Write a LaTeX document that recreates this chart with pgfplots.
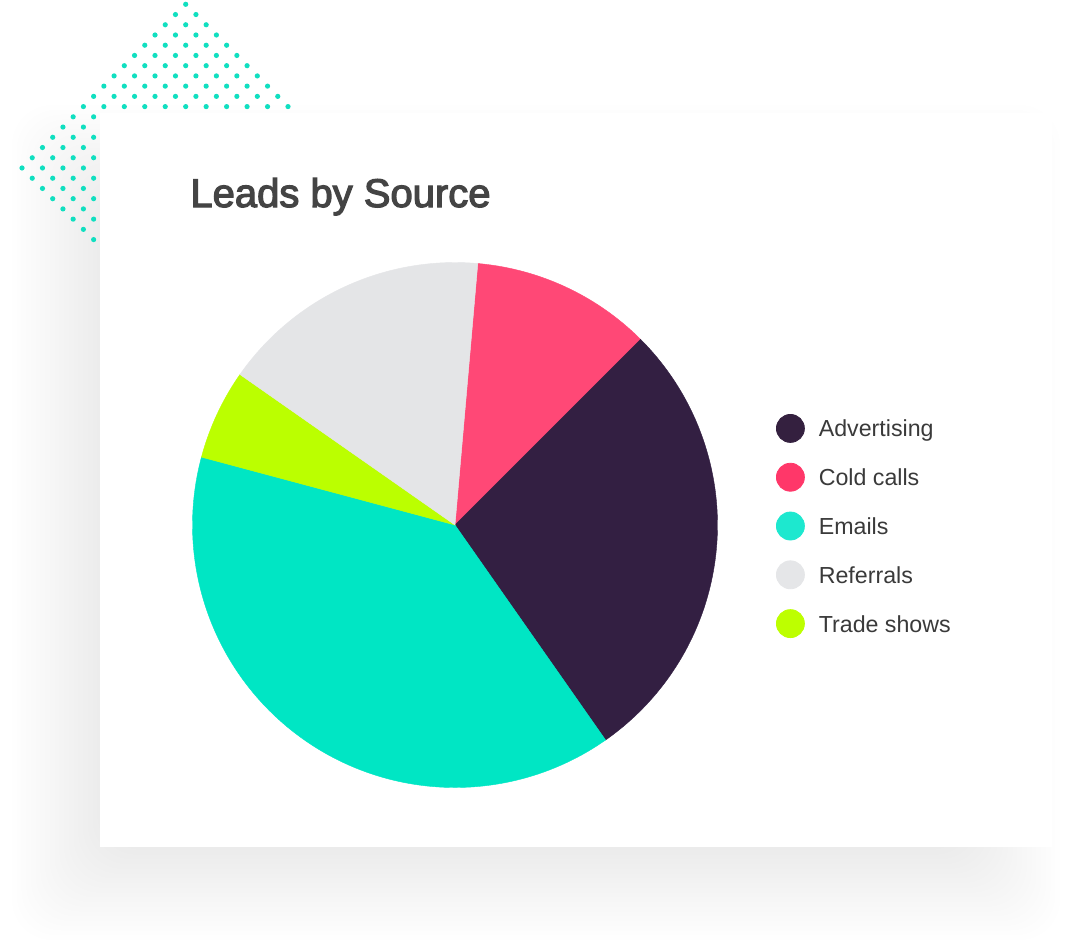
\documentclass[border=0pt]{standalone}
\usepackage{fontspec}
\setmainfont{Liberation Sans}
\newfontfamily\titlefont{Liberation Sans}[FakeBold=3]
\usepackage{pgfplots}
\pgfplotsset{compat=1.18}
\definecolor{advc}{HTML}{331F42}
\definecolor{coldc}{HTML}{FF4876}
\definecolor{emailc}{HTML}{00E6C4}
\definecolor{refc}{HTML}{E4E5E7}
\definecolor{tradec}{HTML}{BBFF00}
\definecolor{ladv}{HTML}{34203F}
\definecolor{lcold}{HTML}{FF3769}
\definecolor{lemail}{HTML}{1DE8CF}
\definecolor{lref}{HTML}{E5E6E8}
\definecolor{ltrade}{HTML}{BDFF00}
\definecolor{dotc}{HTML}{10DFC0}
\definecolor{titlec}{HTML}{444444}
\definecolor{textc}{HTML}{3A3A3A}
% data: leads by source
\def\vAdv{50}
\def\vCold{20}
\def\vEmail{70}
\def\vRef{30}
\def\vTrade{10}
\pgfmathsetmacro\total{\vAdv+\vCold+\vEmail+\vRef+\vTrade}
\pgfmathsetmacro\aA{85}
\pgfmathsetmacro\aB{\aA-\vCold/\total*360}
\pgfmathsetmacro\aC{\aB-\vAdv/\total*360}
\pgfmathsetmacro\aD{\aC-\vEmail/\total*360}
\pgfmathsetmacro\aE{\aD-\vTrade/\total*360}
\pgfmathsetmacro\aF{\aE-\vRef/\total*360}
\begin{document}
\begin{tikzpicture}
\fill[white] (0,0) rectangle (543pt,-474pt);
\begin{scope}[x=0.5pt,y=-0.5pt]
  \foreach \i in {0,...,19}{
    \pgfmathsetmacro\e{-45+90*\i/19}
    \fill[black, fill opacity=0.0055, rounded corners=20pt] (57-\e,150-\e) rectangle (1015+\e,895+\e);
  }
  \foreach \k in {0,...,32}{
    \pgfmathtruncatemacro\m{\k<=16 ? \k : 32-\k}
    \foreach \i in {0,...,\m}{
      \fill[dotc] ({185.7+10.23*(2*\i-\m)},{4.3+10.23*\k}) circle[radius=1.3pt];
    }
  }
  \fill[white] (100,113) rectangle (1052,847);
\end{scope}
\begin{axis}[at={(0,0)}, anchor=north west, scale only axis,
  width=543pt, height=474pt, xmin=0, xmax=1086, ymin=0, ymax=948,
  y dir=reverse, hide axis, clip=false,
  legend style={at={(axis cs:776,414)}, anchor=north west, draw=none, fill=none,
    inner sep=0pt, outer sep=0pt, font=\fontsize{11.6}{14}\selectfont\color{textc},
    row sep=10pt, column sep=7pt,
    nodes={inner sep=0pt, text height=8.5pt, text depth=2.5pt}},
  legend cell align=left]
\addplot[forget plot, fill=coldc, draw=coldc, line width=0.2pt, domain=\aB:\aA, samples=80, variable=\t]
  ({455+262.5*cos(\t)}, {525-262.5*sin(\t)}) -- (axis cs:455,525) -- cycle;
\addplot[forget plot, fill=advc, draw=advc, line width=0.2pt, domain=\aC:\aB, samples=120, variable=\t]
  ({455+262.5*cos(\t)}, {525-262.5*sin(\t)}) -- (axis cs:455,525) -- cycle;
\addplot[forget plot, fill=emailc, draw=emailc, line width=0.2pt, domain=\aD:\aC, samples=160, variable=\t]
  ({455+262.5*cos(\t)}, {525-262.5*sin(\t)}) -- (axis cs:455,525) -- cycle;
\addplot[forget plot, fill=tradec, draw=tradec, line width=0.2pt, domain=\aE:\aD, samples=40, variable=\t]
  ({455+262.5*cos(\t)}, {525-262.5*sin(\t)}) -- (axis cs:455,525) -- cycle;
\addplot[forget plot, fill=refc, draw=refc, line width=0.2pt, domain=\aF:\aE, samples=80, variable=\t]
  ({455+262.5*cos(\t)}, {525-262.5*sin(\t)}) -- (axis cs:455,525) -- cycle;
\addlegendimage{legend image code/.code={\fill[ladv] (7pt,1.2pt) circle (7pt);}}
\addlegendentry{Advertising}
\addlegendimage{legend image code/.code={\fill[lcold] (7pt,1.2pt) circle (7pt);}}
\addlegendentry{Cold calls}
\addlegendimage{legend image code/.code={\fill[lemail] (7pt,1.2pt) circle (7pt);}}
\addlegendentry{Emails}
\addlegendimage{legend image code/.code={\fill[lref] (7pt,1.2pt) circle (7pt);}}
\addlegendentry{Referrals}
\addlegendimage{legend image code/.code={\fill[ltrade] (7pt,1.2pt) circle (7pt);}}
\addlegendentry{Trade shows}
\node[anchor=base west, text=titlec, font=\titlefont\fontsize{20}{24}\selectfont, inner sep=0pt] at (axis cs:190,207) {Leads by Source};
\end{axis}
\pgfresetboundingbox
\path (0,0) rectangle (543pt,-474pt);
\end{tikzpicture}
\end{document}
